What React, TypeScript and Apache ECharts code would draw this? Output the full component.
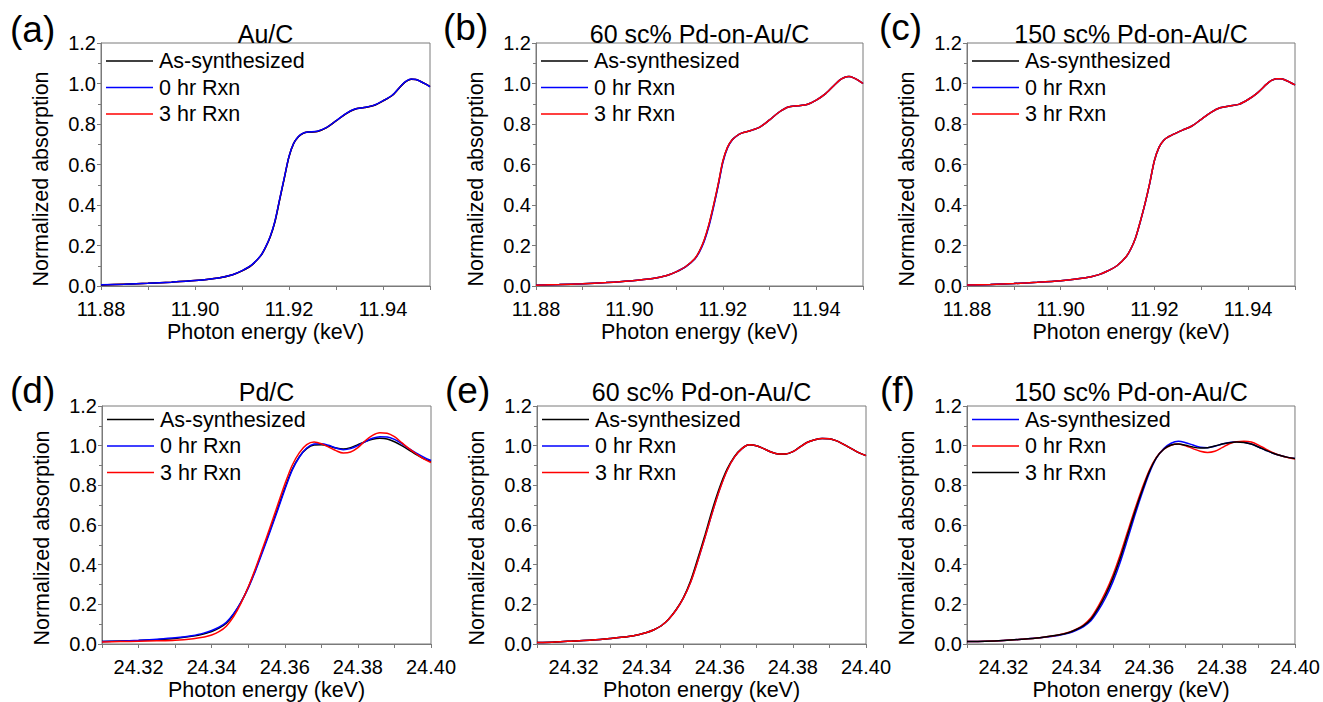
import React, { useEffect, useRef } from 'react';
import * as echarts from 'echarts';

// ---------- data ----------
const auEnergy = [11.880, 11.885, 11.890, 11.895, 11.900, 11.905, 11.908, 11.910, 11.912, 11.914, 11.915, 11.916, 11.917, 11.918, 11.919, 11.920, 11.921, 11.922, 11.923, 11.924, 11.926, 11.928, 11.930, 11.932, 11.934, 11.936, 11.938, 11.940, 11.942, 11.944, 11.945, 11.946, 11.947, 11.948, 11.949, 11.950];
const pdEnergy = [24.310, 24.315, 24.320, 24.325, 24.330, 24.335, 24.338, 24.340, 24.342, 24.344, 24.346, 24.348, 24.350, 24.352, 24.354, 24.356, 24.358, 24.360, 24.362, 24.364, 24.366, 24.368, 24.370, 24.372, 24.374, 24.376, 24.378, 24.380, 24.382, 24.384, 24.386, 24.388, 24.390, 24.392, 24.394, 24.396, 24.398, 24.400];

// (a) Au/C
const aAsSynth = [0.005, 0.009, 0.013, 0.019, 0.027, 0.040, 0.056, 0.075, 0.102, 0.150, 0.190, 0.242, 0.316, 0.424, 0.532, 0.638, 0.704, 0.737, 0.754, 0.760, 0.763, 0.782, 0.815, 0.849, 0.873, 0.881, 0.891, 0.914, 0.942, 0.992, 1.012, 1.021, 1.020, 1.010, 0.998, 0.985];
const a0hr = [0.006, 0.009, 0.013, 0.019, 0.027, 0.040, 0.056, 0.076, 0.103, 0.151, 0.192, 0.245, 0.320, 0.428, 0.535, 0.640, 0.705, 0.738, 0.755, 0.761, 0.764, 0.783, 0.816, 0.850, 0.874, 0.882, 0.892, 0.915, 0.943, 0.993, 1.013, 1.022, 1.020, 1.010, 0.998, 0.984];
const a3hr = [0.005, 0.009, 0.013, 0.019, 0.027, 0.040, 0.056, 0.075, 0.102, 0.150, 0.191, 0.243, 0.318, 0.426, 0.533, 0.639, 0.704, 0.737, 0.754, 0.760, 0.763, 0.782, 0.815, 0.849, 0.873, 0.881, 0.891, 0.914, 0.942, 0.992, 1.012, 1.021, 1.020, 1.010, 0.998, 0.985];
// (b) 60 sc% Pd-on-Au/C, Au edge
const bAsSynth = [0.004, 0.007, 0.011, 0.017, 0.025, 0.037, 0.052, 0.070, 0.095, 0.135, 0.172, 0.225, 0.300, 0.395, 0.500, 0.615, 0.685, 0.722, 0.742, 0.755, 0.768, 0.786, 0.820, 0.858, 0.884, 0.890, 0.896, 0.918, 0.950, 0.995, 1.017, 1.030, 1.034, 1.028, 1.015, 1.000];
const b0hr = [0.004, 0.007, 0.011, 0.017, 0.025, 0.037, 0.052, 0.070, 0.094, 0.133, 0.169, 0.220, 0.293, 0.388, 0.494, 0.610, 0.682, 0.721, 0.741, 0.755, 0.768, 0.786, 0.820, 0.858, 0.884, 0.890, 0.896, 0.918, 0.950, 0.995, 1.017, 1.030, 1.034, 1.028, 1.015, 1.000];
const b3hr = [0.004, 0.007, 0.011, 0.017, 0.025, 0.037, 0.052, 0.070, 0.095, 0.136, 0.173, 0.227, 0.303, 0.398, 0.503, 0.617, 0.686, 0.722, 0.742, 0.755, 0.768, 0.786, 0.820, 0.858, 0.884, 0.890, 0.896, 0.918, 0.950, 0.995, 1.017, 1.030, 1.034, 1.028, 1.015, 1.000];
// (c) 150 sc% Pd-on-Au/C, Au edge
const cAsSynth = [0.005, 0.008, 0.012, 0.018, 0.026, 0.039, 0.055, 0.074, 0.100, 0.146, 0.185, 0.240, 0.320, 0.408, 0.508, 0.620, 0.686, 0.720, 0.737, 0.749, 0.770, 0.790, 0.823, 0.856, 0.880, 0.889, 0.897, 0.921, 0.954, 0.998, 1.015, 1.024, 1.024, 1.016, 1.005, 0.993];
const c0hr = [0.005, 0.008, 0.012, 0.018, 0.026, 0.039, 0.055, 0.074, 0.100, 0.145, 0.184, 0.239, 0.318, 0.406, 0.507, 0.619, 0.686, 0.720, 0.737, 0.749, 0.770, 0.790, 0.823, 0.856, 0.880, 0.889, 0.897, 0.921, 0.954, 0.998, 1.015, 1.024, 1.024, 1.016, 1.005, 0.993];
const c3hr = [0.005, 0.008, 0.012, 0.018, 0.026, 0.039, 0.055, 0.074, 0.100, 0.146, 0.185, 0.240, 0.320, 0.408, 0.508, 0.620, 0.686, 0.720, 0.737, 0.749, 0.770, 0.790, 0.823, 0.856, 0.880, 0.889, 0.897, 0.921, 0.954, 0.998, 1.015, 1.024, 1.024, 1.016, 1.005, 0.993];
// (d) Pd/C
const dAsSynth = [0.012, 0.015, 0.018, 0.022, 0.028, 0.040, 0.052, 0.063, 0.080, 0.105, 0.150, 0.210, 0.285, 0.375, 0.475, 0.575, 0.680, 0.785, 0.880, 0.945, 0.985, 1.003, 1.004, 0.998, 0.988, 0.983, 0.990, 1.005, 1.020, 1.032, 1.037, 1.034, 1.020, 1.000, 0.978, 0.955, 0.935, 0.920];
const d0hr = [0.012, 0.015, 0.019, 0.024, 0.031, 0.043, 0.056, 0.068, 0.085, 0.110, 0.153, 0.210, 0.282, 0.370, 0.468, 0.568, 0.672, 0.778, 0.875, 0.943, 0.988, 1.008, 1.010, 1.002, 0.988, 0.980, 0.985, 1.000, 1.020, 1.037, 1.045, 1.044, 1.032, 1.010, 0.985, 0.962, 0.942, 0.925];
const d3hr = [0.010, 0.012, 0.014, 0.016, 0.019, 0.027, 0.035, 0.045, 0.062, 0.090, 0.138, 0.205, 0.287, 0.382, 0.485, 0.590, 0.698, 0.805, 0.900, 0.965, 1.005, 1.018, 1.010, 0.993, 0.975, 0.963, 0.968, 0.990, 1.025, 1.052, 1.065, 1.063, 1.045, 1.015, 0.985, 0.958, 0.933, 0.915];
// (e) 60 sc% Pd-on-Au/C, Pd edge
const eAsSynth = [0.007, 0.010, 0.015, 0.020, 0.028, 0.038, 0.048, 0.058, 0.072, 0.092, 0.125, 0.172, 0.232, 0.318, 0.432, 0.552, 0.680, 0.792, 0.882, 0.945, 0.985, 1.005, 1.000, 0.985, 0.968, 0.958, 0.958, 0.970, 0.995, 1.018, 1.030, 1.036, 1.035, 1.024, 1.005, 0.985, 0.965, 0.950];
const e0hr = [0.007, 0.010, 0.015, 0.020, 0.028, 0.038, 0.048, 0.058, 0.072, 0.092, 0.125, 0.170, 0.230, 0.311, 0.421, 0.541, 0.666, 0.781, 0.876, 0.942, 0.984, 1.004, 1.000, 0.985, 0.968, 0.958, 0.958, 0.970, 0.994, 1.017, 1.030, 1.036, 1.035, 1.024, 1.005, 0.985, 0.965, 0.950];
const e3hr = [0.007, 0.010, 0.015, 0.020, 0.028, 0.038, 0.048, 0.058, 0.072, 0.092, 0.125, 0.170, 0.230, 0.310, 0.420, 0.540, 0.665, 0.780, 0.875, 0.942, 0.984, 1.004, 1.000, 0.985, 0.968, 0.958, 0.958, 0.970, 0.994, 1.017, 1.030, 1.036, 1.035, 1.024, 1.005, 0.985, 0.965, 0.950];
// (f) 150 sc% Pd-on-Au/C, Pd edge
const fAsSynth = [0.012, 0.014, 0.018, 0.024, 0.031, 0.043, 0.055, 0.069, 0.088, 0.117, 0.168, 0.232, 0.312, 0.410, 0.525, 0.645, 0.757, 0.860, 0.938, 0.985, 1.012, 1.022, 1.015, 1.003, 0.992, 0.990, 0.997, 1.008, 1.016, 1.020, 1.017, 1.008, 0.993, 0.977, 0.962, 0.950, 0.941, 0.935];
const f0hr = [0.012, 0.014, 0.018, 0.024, 0.032, 0.045, 0.059, 0.075, 0.097, 0.132, 0.190, 0.260, 0.345, 0.447, 0.562, 0.676, 0.782, 0.875, 0.942, 0.982, 1.002, 1.008, 1.000, 0.985, 0.972, 0.966, 0.972, 0.990, 1.010, 1.020, 1.022, 1.018, 1.003, 0.983, 0.964, 0.950, 0.940, 0.933];
const f3hr = [0.012, 0.014, 0.018, 0.024, 0.032, 0.045, 0.058, 0.073, 0.093, 0.125, 0.180, 0.247, 0.330, 0.430, 0.546, 0.662, 0.770, 0.868, 0.940, 0.982, 1.003, 1.008, 1.002, 0.993, 0.988, 0.990, 0.998, 1.008, 1.015, 1.018, 1.016, 1.008, 0.993, 0.977, 0.962, 0.950, 0.941, 0.935];

const seriesNames = ['As-synthesized', '0 hr Rxn', '3 hr Rxn'];
const panelTitles = ['Au/C', '60 sc% Pd-on-Au/C', '150 sc% Pd-on-Au/C', 'Pd/C', '60 sc% Pd-on-Au/C', '150 sc% Pd-on-Au/C'];
const panelTags = ['(a)', '(b)', '(c)', '(d)', '(e)', '(f)'];
const auRange = [11.88, 11.95];
const pdRange = [24.31, 24.40];
const yRange = [0, 1.2];
const yStep = 0.2;
const xStep = 0.01;
const xTitle = 'Photon energy (keV)';
const yTitle = 'Normalized absorption';

// ---------- styling / layout ----------
const FONT = '"Liberation Sans", Arial, Helvetica, sans-serif';
const GRAY = '#7a7a7a';
const BLACK = '#000000';
const BLUE = '#0000ff';
const RED = '#ff0000';

type Curve = { name: string; color: string; values: number[] };
type Panel = {
  energies: number[];
  range: number[];
  draw: Curve[]; // drawing order (last on top)
  legend: { name: string; color: string }[];
  grid: { left: number; top: number; width: number; height: number };
  tag: { left: number; top: number };
  titleTop: number;
  legendRows: number[];
  yPad: number;
};

const stdLegend = [
  { name: seriesNames[0], color: BLACK },
  { name: seriesNames[1], color: BLUE },
  { name: seriesNames[2], color: RED },
];

const topRows = [18, 44.5, 71];
const botRows = [13.5, 40, 66.5];

const panels: Panel[] = [
  {
    energies: auEnergy, range: auRange,
    draw: [
      { name: seriesNames[2], color: RED, values: a3hr },
      { name: seriesNames[0], color: BLACK, values: aAsSynth },
      { name: seriesNames[1], color: BLUE, values: a0hr },
    ],
    legend: stdLegend,
    grid: { left: 101, top: 43, width: 329, height: 243 },
    tag: { left: 10, top: 11 }, titleTop: 21, legendRows: topRows, yPad: 29,
  },
  {
    energies: auEnergy, range: auRange,
    draw: [
      { name: seriesNames[0], color: BLACK, values: bAsSynth },
      { name: seriesNames[1], color: BLUE, values: b0hr },
      { name: seriesNames[2], color: RED, values: b3hr },
    ],
    legend: stdLegend,
    grid: { left: 536, top: 43, width: 327, height: 243 },
    tag: { left: 443, top: 9 }, titleTop: 21, legendRows: topRows, yPad: 29,
  },
  {
    energies: auEnergy, range: auRange,
    draw: [
      { name: seriesNames[0], color: BLACK, values: cAsSynth },
      { name: seriesNames[1], color: BLUE, values: c0hr },
      { name: seriesNames[2], color: RED, values: c3hr },
    ],
    legend: stdLegend,
    grid: { left: 967, top: 43, width: 328, height: 243 },
    tag: { left: 879, top: 9 }, titleTop: 21, legendRows: topRows, yPad: 29,
  },
  {
    energies: pdEnergy, range: pdRange,
    draw: [
      { name: seriesNames[0], color: BLACK, values: dAsSynth },
      { name: seriesNames[1], color: BLUE, values: d0hr },
      { name: seriesNames[2], color: RED, values: d3hr },
    ],
    legend: stdLegend,
    grid: { left: 102, top: 406, width: 329, height: 241 },
    tag: { left: 10, top: 372 }, titleTop: 379, legendRows: botRows, yPad: 26,
  },
  {
    energies: pdEnergy, range: pdRange,
    draw: [
      { name: seriesNames[1], color: BLUE, values: e0hr },
      { name: seriesNames[0], color: BLACK, values: eAsSynth },
      { name: seriesNames[2], color: RED, values: e3hr },
    ],
    legend: stdLegend,
    grid: { left: 537, top: 406, width: 329, height: 241 },
    tag: { left: 445, top: 372 }, titleTop: 379, legendRows: botRows, yPad: 26,
  },
  {
    energies: pdEnergy, range: pdRange,
    draw: [
      { name: seriesNames[0], color: BLUE, values: fAsSynth },
      { name: seriesNames[1], color: RED, values: f0hr },
      { name: seriesNames[2], color: BLACK, values: f3hr },
    ],
    legend: [
      { name: seriesNames[0], color: BLUE },
      { name: seriesNames[1], color: RED },
      { name: seriesNames[2], color: BLACK },
    ],
    grid: { left: 967, top: 406, width: 328, height: 241 },
    tag: { left: 880, top: 372 }, titleTop: 379, legendRows: botRows, yPad: 26,
  },
];

function buildOption() {
  const grid: any[] = [];
  const xAxis: any[] = [];
  const yAxis: any[] = [];
  const series: any[] = [];
  const title: any[] = [];
  const graphic: any[] = [];

  panels.forEach((p, i) => {
    const g = p.grid;
    grid.push({ left: g.left, top: g.top, width: g.width, height: g.height, show: true, borderColor: GRAY, borderWidth: 1, backgroundColor: 'transparent' });
    xAxis.push({
      type: 'value', gridIndex: i, min: p.range[0], max: p.range[1], interval: xStep,
      axisLine: { show: true, onZero: false, lineStyle: { color: GRAY, width: 1 } },
      axisTick: { show: true, inside: false, length: 4, lineStyle: { color: GRAY } },
      axisLabel: {
        color: '#000', fontSize: 20, lineHeight: 20, fontFamily: FONT, margin: 12.5,
        formatter: (v: number) => (Math.round(v * 100) % 2 === 0 ? v.toFixed(2) : ''),
      },
      splitLine: { show: false },
      name: xTitle, nameLocation: 'middle', nameGap: 35,
      nameTextStyle: { color: '#000', fontSize: 21.5, fontFamily: FONT },
    });
    yAxis.push({
      type: 'value', gridIndex: i, min: yRange[0], max: yRange[1], interval: yStep,
      axisLine: { show: true, onZero: false, lineStyle: { color: GRAY, width: 1 } },
      axisTick: { show: true, inside: false, length: 4, lineStyle: { color: GRAY } },
      minorTick: { show: true, splitNumber: 2, length: 3, lineStyle: { color: GRAY } },
      axisLabel: { color: '#000', fontSize: 20, lineHeight: 20, fontFamily: FONT, margin: 5, formatter: (v: number) => v.toFixed(1) },
      splitLine: { show: false }, minorSplitLine: { show: false },
      name: yTitle, nameLocation: 'middle', nameGap: 49, nameRotate: 90,
      nameTextStyle: { color: '#000', fontSize: 21.5, fontFamily: FONT, padding: [0, p.yPad, 0, 0] },
    });
    p.draw.forEach((c) => {
      series.push({
        type: 'line', name: c.name, xAxisIndex: i, yAxisIndex: i,
        data: p.energies.map((x, k) => [x, c.values[k]]),
        showSymbol: false, symbol: 'none', smooth: 0.3,
        lineStyle: { color: c.color, width: 1.5 }, itemStyle: { color: c.color },
      });
    });
    title.push({
      text: panelTitles[i], left: g.left + g.width / 2, top: p.titleTop, textAlign: 'center', padding: 0,
      textStyle: { color: '#000', fontSize: 25, fontWeight: 'normal', fontFamily: FONT },
    });
    title.push({
      text: panelTags[i], left: p.tag.left, top: p.tag.top, padding: 0,
      textStyle: { color: '#000', fontSize: 37, fontWeight: 'normal', fontFamily: FONT },
    });
    p.legend.forEach((l, r) => {
      const y = g.top + p.legendRows[r];
      graphic.push({
        type: 'line', silent: true, z: 100,
        shape: { x1: g.left + 5, y1: y, x2: g.left + 52, y2: y },
        style: { stroke: l.color, lineWidth: 1.5 },
      });
      graphic.push({
        type: 'text', silent: true, z: 100, x: g.left + 58, y: y,
        style: { text: l.name, fill: '#000', font: `21.5px ${FONT}`, align: 'left', verticalAlign: 'middle' },
      });
    });
  });

  return {
    animation: false,
    backgroundColor: '#ffffff',
    textStyle: { fontFamily: FONT },
    title, grid, xAxis, yAxis, series, graphic,
  };
}

export default function App() {
  const ref = useRef<HTMLDivElement>(null);
  useEffect(() => {
    if (!ref.current) return;
    const chart = echarts.init(ref.current, undefined, { renderer: 'svg' });
    chart.setOption(buildOption() as any);
    return () => chart.dispose();
  }, []);
  return <div ref={ref} style={{ position: 'fixed', left: 0, top: 0, width: 1323, height: 702 }} />;
}
